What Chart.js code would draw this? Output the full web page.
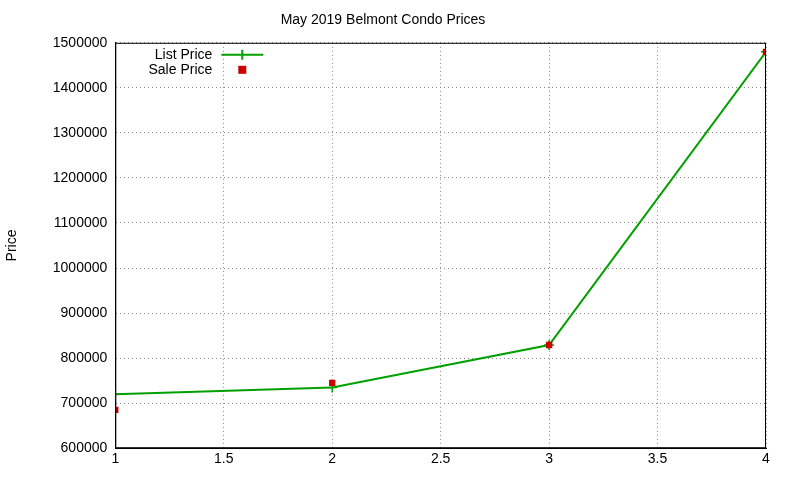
<!DOCTYPE html>
<html><head><script src="https://cdn.jsdelivr.net/npm/chart.js@4/dist/chart.umd.min.js"></script>
<style>body{margin:0;background:#fff}#w{width:800px;height:480px}</style></head>
<body><div id="w"><canvas id="c"></canvas></div>
<script>
const xValues=[1,2,3,4];
const listPrice=[720000,735000,829000,1480000];
const salePrice=[685000,745000,829000,1480000];
const seriesNames=["List Price","Sale Price"];
const F="'Liberation Sans', Arial, sans-serif";
const legendPlugin={id:'gl',afterDraw(ch){const c=ch.ctx,a=ch.chartArea;c.save();
c.strokeStyle='#000';c.lineWidth=1;c.strokeRect(a.left+0.5,a.top+0.5,a.right-a.left-1,a.bottom-a.top-1);
c.font="14px "+F;c.fillStyle='#000';c.textAlign='right';c.textBaseline='middle';
const x=a.left+106,y1=a.top+12,y2=a.top+27;
c.fillText(seriesNames[0],x-9,y1);c.fillText(seriesNames[1],x-9,y2);
c.strokeStyle='#00a000';c.lineWidth=2;c.beginPath();c.moveTo(x,y1);c.lineTo(x+42,y1);c.moveTo(x+21,y1-5);c.lineTo(x+21,y1+5);c.stroke();
c.fillStyle='#cc0000';c.fillRect(x+21-4,y2-4,8,8);c.restore();}};
const grid={color:'#888',tickLength:0};
new Chart(document.getElementById('c'),{type:'line',
data:{datasets:[
{label:seriesNames[0],order:2,data:xValues.map((x,i)=>({x,y:listPrice[i]})),borderColor:'#00a000',backgroundColor:'#00a000',borderWidth:2,pointStyle:'cross',pointRadius:5,pointBorderWidth:1.5,tension:0},
{label:seriesNames[1],order:1,data:xValues.map((x,i)=>({x,y:salePrice[i]})),showLine:false,pointStyle:'rect',pointRadius:4.5,backgroundColor:'#cc0000',borderColor:'#cc0000',borderWidth:0}]},
options:{responsive:true,maintainAspectRatio:false,animation:false,
layout:{padding:{top:8,right:34,left:0,bottom:9}},
plugins:{legend:{display:false},tooltip:{enabled:false},title:{display:true,text:'May 2019 Belmont Condo Prices',color:'#000',font:{family:F,size:14,weight:'normal'},padding:{top:4,bottom:14}}},
scales:{x:{type:'linear',min:1,max:4,ticks:{stepSize:0.5,color:'#000',font:{family:F,size:14},callback:v=>String(v)},grid:grid,border:{color:'#000',width:1,dash:[1,3]}},
y:{min:600000,max:1500000,ticks:{stepSize:100000,color:'#000',font:{family:F,size:14},padding:8,callback:v=>String(v)},title:{display:true,text:'Price',color:'#000',font:{family:F,size:14},padding:{bottom:24}},grid:grid,border:{color:'#000',width:1,dash:[1,3]}}}},
plugins:[legendPlugin]});
</script></body></html>
